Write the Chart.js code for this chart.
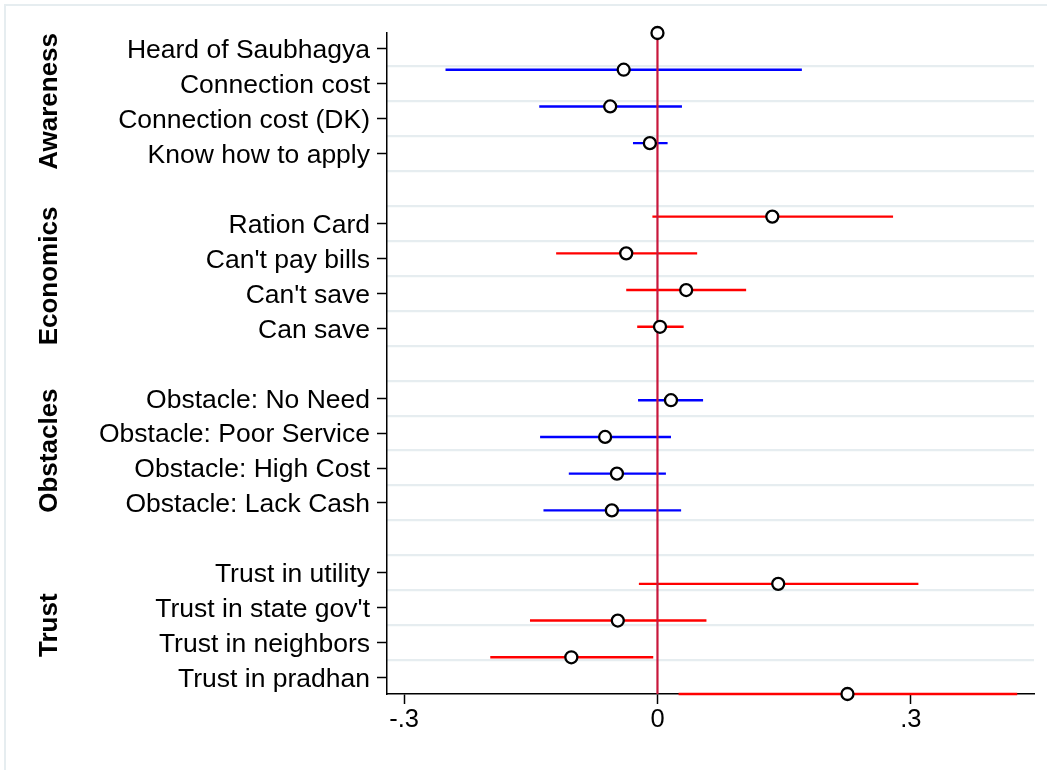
<!DOCTYPE html>
<html>
<head>
<meta charset="utf-8">
<script src="https://cdn.jsdelivr.net/npm/chart.js@4.4.1/dist/chart.umd.min.js"></script>
<style>
  html, body { margin: 0; padding: 0; background: #fff; }
  #wrap { width: 1047px; height: 770px; position: relative; }
</style>
</head>
<body>
<div id="wrap"><canvas id="coef"></canvas></div>
<script>
// Coefficient estimates with confidence intervals, grouped by topic
const groupNames = ['Awareness', 'Economics', 'Obstacles', 'Trust'];
const groupColors = ['#0000ff', '#ff0000', '#0000ff', '#ff0000'];
const groupOf = [0, 0, 0, 0, 1, 1, 1, 1, 2, 2, 2, 2, 3, 3, 3, 3];
const categories = [
  'Heard of Saubhagya', 'Connection cost', 'Connection cost (DK)', 'Know how to apply',
  'Ration Card', "Can't pay bills", "Can't save", 'Can save',
  'Obstacle: No Need', 'Obstacle: Poor Service', 'Obstacle: High Cost', 'Obstacle: Lack Cash',
  'Trust in utility', "Trust in state gov't", 'Trust in neighbors', 'Trust in pradhan'
];
const estimates = [0, -0.040, -0.056, -0.009, 0.136, -0.037, 0.034, 0.003,
                   0.016, -0.062, -0.048, -0.054, 0.143, -0.047, -0.102, 0.225];
const ciLower = [null, -0.251, -0.140, -0.029, -0.006, -0.120, -0.037, -0.024,
                 -0.023, -0.139, -0.105, -0.135, -0.022, -0.151, -0.198, 0.025];
const ciUpper = [null, 0.171, 0.029, 0.012, 0.279, 0.047, 0.105, 0.031,
                 0.054, 0.016, 0.010, 0.028, 0.309, 0.058, -0.005, 0.426];
const xTickValues = [-0.3, 0, 0.3];
const xTickLabels = ['-.3', '0', '.3'];

const FONT = "'Liberation Sans', Arial, Helvetica, sans-serif";
const GRID = '#e6edf0';

// each group is followed by an empty slot
const slots = categories.map((_, i) => i + groupOf[i]);
const separators = Array.from({ length: 18 }, (_, i) => i + 0.5);

// one line dataset per group, gaps between intervals
const ciSets = groupNames.map((g, gi) => {
  const data = [];
  categories.forEach((_, i) => {
    if (groupOf[i] !== gi || ciLower[i] === null) return;
    data.push({ x: ciLower[i], y: slots[i] });
    data.push({ x: ciUpper[i], y: slots[i] });
    data.push({ x: null, y: null });
  });
  return {
    type: 'line', data, yAxisID: 'yPts', borderColor: groupColors[gi],
    borderWidth: 2.4, pointRadius: 0, spanGaps: false, order: 3, clip: false
  };
});

const zeroLine = {
  type: 'line', data: [{ x: 0, y: 0 }, { x: 0, y: 18 }], yAxisID: 'yPts',
  borderColor: '#c8173c', borderWidth: 2.2, pointRadius: 0, order: 2, clip: false
};

const markers = {
  type: 'scatter',
  data: estimates.map((v, i) => ({ x: v, y: slots[i] })),
  yAxisID: 'yPts', pointRadius: 6, pointBorderWidth: 2.3,
  pointBackgroundColor: '#ffffff', pointBorderColor: '#000000',
  order: 1, clip: false
};

const framePlugin = {
  id: 'frame',
  beforeDraw(chart) {
    const { ctx, width, height } = chart;
    ctx.save();
    ctx.fillStyle = '#ffffff';
    ctx.fillRect(0, 0, width, height);
    ctx.strokeStyle = GRID;
    ctx.lineWidth = 2;
    ctx.beginPath();
    ctx.moveTo(5, height); ctx.lineTo(5, 5); ctx.lineTo(width, 5);
    ctx.stroke();
    ctx.restore();
  }
};

const groupTitlePlugin = {
  id: 'groupTitles',
  afterDraw(chart) {
    const { ctx } = chart;
    const y = chart.scales.yLab;
    ctx.save();
    ctx.fillStyle = '#000';
    ctx.font = `bold 26px ${FONT}`;
    ctx.textAlign = 'center';
    ctx.textBaseline = 'middle';
    groupNames.forEach((g, gi) => {
      const s = slots.filter((_, i) => groupOf[i] === gi);
      const mid = y.getPixelForValue((s[0] + s[s.length - 1]) / 2);
      ctx.save();
      ctx.translate(50, mid);
      ctx.rotate(-Math.PI / 2);
      ctx.fillText(g, 0, 0);
      ctx.restore();
    });
    ctx.restore();
  }
};

new Chart(document.getElementById('coef'), {
  type: 'scatter',
  data: { datasets: [...ciSets, zeroLine, markers] },
  plugins: [framePlugin, groupTitlePlugin],
  options: {
    responsive: true, maintainAspectRatio: false, animation: false,
    layout: { padding: { top: 33, right: 13, bottom: 0, left: 0 } },
    plugins: { legend: { display: false }, tooltip: { enabled: false } },
    scales: {
      x: {
        type: 'linear', position: 'bottom', min: -0.3203, max: 0.4459,
        afterBuildTicks: s => { s.ticks = xTickValues.map(v => ({ value: v })); },
        ticks: {
          callback: v => xTickLabels[xTickValues.indexOf(v)],
          font: { family: FONT, size: 25.5 }, color: '#000', padding: 1,
          maxRotation: 0, autoSkip: false
        },
        grid: { drawOnChartArea: false, drawTicks: true, tickLength: 10, tickWidth: 1.5, tickColor: '#000' },
        border: { display: true, color: '#000', width: 1.5 },
        afterFit: s => { s.height = 76; }
      },
      yPts: { type: 'linear', min: 0, max: 18, reverse: true, display: false },
      yLab: {
        type: 'linear', position: 'left', min: -0.458, max: 18.47, reverse: true,
        afterBuildTicks: s => { s.ticks = slots.map(v => ({ value: v })); },
        ticks: {
          callback: v => categories[slots.indexOf(v)],
          font: { family: FONT, size: 26.5 }, color: '#000', padding: 7,
          labelOffset: 2, autoSkip: false
        },
        grid: { drawOnChartArea: false, drawTicks: true, tickLength: 10, tickWidth: 1.5, tickColor: '#000' },
        border: { display: true, color: '#000', width: 1.5 },
        afterFit: s => { s.width = 387; }
      },
      yGrid: {
        type: 'linear', position: 'right', min: -0.458, max: 18.47, reverse: true,
        afterBuildTicks: s => { s.ticks = separators.map(v => ({ value: v })); },
        ticks: { display: false },
        grid: { drawTicks: false, color: GRID, lineWidth: 2.2 },
        border: { display: false },
        afterFit: s => { s.width = 0; }
      }
    }
  }
});
</script>
</body>
</html>
